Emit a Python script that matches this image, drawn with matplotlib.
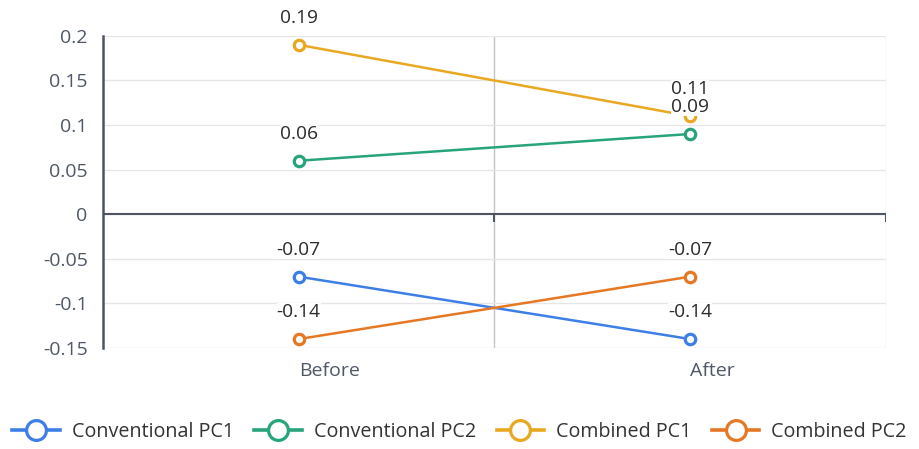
import numpy as np
import matplotlib.pyplot as plt

plt.rcParams['font.family'] = ['Open Sans', 'DejaVu Sans']

stages = ['Before', 'After']
conv_pc1 = [-0.07, -0.14]
conv_pc2 = [0.06, 0.09]
comb_pc1 = [0.19, 0.11]
comb_pc2 = [-0.14, -0.07]

series = [
    ('Conventional PC1', conv_pc1, '#3d7fe6'),
    ('Conventional PC2', conv_pc2, '#27a47c'),
    ('Combined PC1', comb_pc1, '#e8a820'),
    ('Combined PC2', comb_pc2, '#e67824'),
]

yticks = [-0.15, -0.1, -0.05, 0, 0.05, 0.1, 0.15, 0.2]
ytick_labels = ['-0.15', '-0.1', '-0.05', '0', '0.05', '0.1', '0.15', '0.2']

fig = plt.figure(figsize=(9.19, 4.49), dpi=100)
ax = fig.add_axes([0.112, 0.225, 0.852, 0.695])

x = np.arange(len(stages))
for name, vals, col in series:
    ax.plot(x, vals, color=col, lw=1.8, marker='o', ms=7.5, mfc='white',
            mec=col, mew=2.3, label=name, zorder=3)

# value labels sit above every marker, on top of all lines
for name, vals, col in series:
    for xi, v in zip(x, vals):
        ax.annotate(f'{v:g}', (xi, v), xytext=(0, 19.5), textcoords='offset points',
                    ha='center', va='center', fontsize=13.8, color='#2b2b2b',
                    zorder=5, bbox=dict(boxstyle='square,pad=0', fc='white', ec='none'))

ax.set_xlim(-0.5, 1.5)
ax.set_ylim(-0.15, 0.2)
ax.set_yticks(yticks)
ax.set_yticklabels(ytick_labels)
ax.set_xticks(x)
ax.set_xticklabels(stages, ha='left')
ax.tick_params(axis='y', length=0, pad=11, labelsize=14, labelcolor='#4f5866')
ax.tick_params(axis='x', length=0, pad=10, labelsize=14, labelcolor='#4f5866')

ax.grid(axis='y', color='#e6e6e6', lw=1.0, zorder=0)
ax.axvline(0.5, color='#c4c4c4', lw=1.0, zorder=1)
ax.axvline(1.5, color='#e0e0e0', lw=1.0, zorder=1)
ax.axhline(0, color='#4d5560', lw=1.5, zorder=2)
# small category ticks hanging off the zero line
ax.vlines([0.5, 1.5], -0.009, 0, color='#4d5560', lw=1.5, zorder=2)

for s in ['top', 'right', 'bottom']:
    ax.spines[s].set_visible(False)
ax.spines['left'].set_color('#4d5560')
ax.spines['left'].set_linewidth(1.8)

leg = fig.legend(loc='center', bbox_to_anchor=(0.5, 0.038), ncol=4, frameon=False,
                 fontsize=14.2, markerscale=1.9, handlelength=2.4, handletextpad=0.6,
                 columnspacing=1.05, labelcolor='#333333')
for h in leg.legend_handles:
    h.set_linewidth(2.6)

fig.savefig('out.png', dpi=100, facecolor='white')
